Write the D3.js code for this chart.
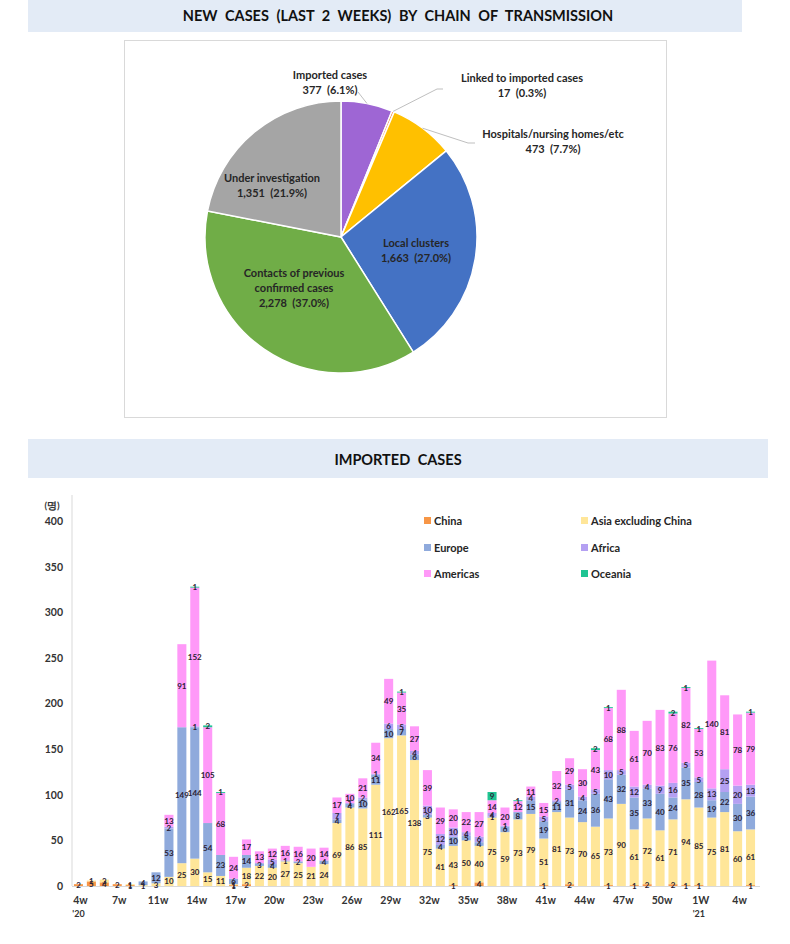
<!DOCTYPE html>
<html>
<head>
<meta charset="utf-8">
<script src="https://cdn.jsdelivr.net/npm/d3@7"></script>
<style>
  html, body { margin: 0; padding: 0; background: #fff; }
  svg { display: block; }
  text { font-family: Lato, "Open Sans", sans-serif; white-space: pre; }
</style>
</head>
<body>
<svg id="chart" width="790" height="944"></svg>
<script>
// ---------------- DATA ----------------
const pieTitle = "NEW CASES (LAST 2 WEEKS) BY CHAIN OF TRANSMISSION";
const barTitle = "IMPORTED CASES";

const pieNames = ["Imported cases", "Linked to imported cases", "Hospitals/nursing homes/etc",
                  "Local clusters", "Contacts of previous confirmed cases", "Under investigation"];
const pieValues = [377, 17, 473, 1663, 2278, 1351];
const piePercents = ["6.1%", "0.3%", "7.7%", "27.0%", "37.0%", "21.9%"];
const pieColors = ["#9e66d4", "#ed7d31", "#ffc000", "#4472c4", "#70ad47", "#a5a5a5"];

// weekly categories (2020 w4-w9, w11-w52, 2021 w1-w5)
const weeks = [
  "2020-04","2020-05","2020-06","2020-07","2020-08","2020-09",
  "2020-11","2020-12","2020-13","2020-14","2020-15","2020-16","2020-17","2020-18","2020-19","2020-20",
  "2020-21","2020-22","2020-23","2020-24","2020-25","2020-26","2020-27","2020-28","2020-29","2020-30",
  "2020-31","2020-32","2020-33","2020-34","2020-35","2020-36","2020-37","2020-38","2020-39","2020-40",
  "2020-41","2020-42","2020-43","2020-44","2020-45","2020-46","2020-47","2020-48","2020-49","2020-50",
  "2020-51","2020-52","2021-01","2021-02","2021-03","2021-04","2021-05"
];
const tickWeeks = ["2020-04","2020-07","2020-11","2020-14","2020-17","2020-20","2020-23","2020-26","2020-29",
  "2020-32","2020-35","2020-38","2020-41","2020-44","2020-47","2020-50","2021-01","2021-04"];
const tickLabels = ["4w","7w","11w","14w","17w","20w","23w","26w","29w","32w","35w","38w","41w","44w","47w","50w","1W","4w"];
const yearWeeks = ["2020-04", "2021-01"];
const yearLabels = ["'20", "'21"];
const yTicks = [0, 50, 100, 150, 200, 250, 300, 350, 400];
const yUnit = "(명)";

const seriesNames = ["China", "Asia excluding China", "Europe", "Africa", "Americas", "Oceania"];
const seriesColors = ["#f79646", "#ffe699", "#8faadc", "#b4a0f2", "#ff99f8", "#1fc493"];

const china = [2,5,4,2,1,0, 0,0,0,0,0,0,1,2,0,0, 0,0,0,0,0,0,0,0,0,0, 0,0,0,1,0,4,0,0,0,0,
  1,0,2,0,0,1,0,1,2,0, 2,1,1,0,0,0,1];
const asia = [0,1,3,0,1,1, 3,10,25,30,15,11,1,18,22,20, 27,25,21,24,69,86,85,111,162,165,
  138,75,41,43,50,40,75,59,73,79, 51,81,73,70,65,73,90,61,72,61, 71,94,85,75,81,60,61];
const europe = [0,0,0,0,0,4, 12,53,149,144,54,23,6,14,3,4, 1,2,0,4,4,4,10,11,10,7,
  6,3,4,10,5,4,1,6,8,15, 19,11,31,24,36,43,32,35,33,40, 24,35,28,19,22,30,36];
const africa = [0,0,0,0,0,0, 0,2,0,1,0,0,0,0,0,5, 0,0,0,0,7,1,2,1,6,5,
  4,10,12,10,4,6,4,1,0,4, 5,2,5,4,5,10,5,12,4,9, 16,5,5,13,25,20,13];
const americas = [0,0,0,0,0,0, 0,13,91,152,105,68,24,17,13,12, 16,16,20,14,17,10,21,34,49,35,
  27,39,29,20,22,27,14,20,12,11, 15,32,29,30,43,68,88,61,70,83, 76,82,53,140,81,78,79];
const oceania = [0,0,0,0,0,0, 0,0,0,1,2,1,0,0,0,0, 0,0,0,0,0,0,0,0,0,1,
  0,0,0,0,0,0,9,0,1,0, 0,0,0,0,2,1,0,0,0,0, 2,1,1,0,0,0,1];
const seriesValues = [china, asia, europe, africa, americas, oceania];

// ---------------- DRAW ----------------
const svg = d3.select("#chart");
const ink = "#262626";

// banners
function banner(x, y, w, h, label, tx, ty) {
  svg.append("rect").attr("x", x).attr("y", y).attr("width", w).attr("height", h).attr("fill", "#e3ebf6");
  svg.append("text").attr("x", tx).attr("y", ty).attr("text-anchor", "middle")
    .attr("font-size", 14.5).attr("font-weight", 700).attr("fill", "#111").attr("word-spacing", 4)
    .text(label);
}
banner(28, 0, 714, 32, pieTitle, 398, 21);
banner(28, 439, 740, 39, barTitle, 398, 465);

// ---- pie ----
svg.append("rect").attr("x", 124.5).attr("y", 40.5).attr("width", 542).attr("height", 377)
  .attr("fill", "#fff").attr("stroke", "#d9d9d9");

const cx = 341, cy = 237, R = 136;
const pieData = d3.pie().sort(null).value(d => d)(pieValues);
const arc = d3.arc().innerRadius(0).outerRadius(R);
const gPie = svg.append("g").attr("transform", `translate(${cx},${cy})`);
gPie.selectAll("path").data(pieData).join("path")
  .attr("d", arc).attr("fill", (d, i) => pieColors[i])
  .attr("stroke", "#fff").attr("stroke-width", 1.5);

// label layout (offsets from pie centre) and wrapped lines
const labelLayout = [
  { dx: -11, dy: -158, lines: ["Imported cases"] },
  { dx: 181, dy: -155, lines: ["Linked to imported cases"] },
  { dx: 212, dy: -99, lines: ["Hospitals/nursing homes/etc"] },
  { dx: 75, dy: 10, lines: ["Local clusters"] },
  { dx: -47, dy: 40, lines: ["Contacts of previous", "confirmed cases"] },
  { dx: -69, dy: -55, lines: ["Under investigation"] }
];
const fmt = d3.format(",");
pieData.forEach((d, i) => {
  const L = labelLayout[i];
  const lines = L.lines.concat([`${fmt(pieValues[i])}  (${piePercents[i]})`]);
  const t = gPie.append("text").attr("text-anchor", "middle").attr("font-size", 11)
    .attr("font-weight", 700).attr("fill", ink);
  lines.forEach((ln, k) => {
    t.append("tspan").attr("x", L.dx).attr("y", L.dy + k * 15).text(ln);
  });
});

// leader lines for outside labels
const edge = d3.arc().innerRadius(R).outerRadius(R);
function leader(i, pts) {
  const c = edge.centroid(pieData[i]);
  gPie.append("path").attr("d", d3.line()([c].concat(pts)))
    .attr("fill", "none").attr("stroke", "#bfbfbf").attr("stroke-width", 1);
}
leader(0, [[17, -145]]);
leader(1, [[96, -148], [102, -148]]);
leader(2, [[127, -94], [134, -94]]);

// ---- stacked bars ----
const x = d3.scaleBand().domain(weeks).range([72, 757]).paddingInner(0.3).paddingOuter(0.15);
const y = d3.scaleLinear().domain([0, 400]).range([886, 521]);

const rows = weeks.map((w, i) => {
  const r = { week: w };
  seriesNames.forEach((s, k) => r[s] = seriesValues[k][i]);
  return r;
});
const stacked = d3.stack().keys(seriesNames)(rows);

// axes
const yAxis = svg.append("g").attr("transform", "translate(72,0)")
  .call(d3.axisLeft(y).tickValues(yTicks).tickSize(0).tickPadding(9));
yAxis.select(".domain").attr("stroke", "#d9d9d9").attr("d", "M0,495V886");
yAxis.selectAll("text").attr("font-family", "Lato, sans-serif").attr("font-size", 10.5)
  .attr("font-weight", 700).attr("fill", "#333");

svg.append("line").attr("x1", 72).attr("x2", 760).attr("y1", 886.5).attr("y2", 886.5)
  .attr("stroke", "#d9d9d9");

svg.append("text").attr("x", 52).attr("y", 509).attr("text-anchor", "middle")
  .attr("font-family", "'Noto Sans CJK KR', sans-serif").attr("font-size", 9.5)
  .attr("font-weight", 700).attr("fill", "#333").text(yUnit);

const gBars = svg.append("g");
stacked.forEach((layer, k) => {
  gBars.append("g").attr("fill", seriesColors[k]).selectAll("rect")
    .data(layer.filter(d => d[1] > d[0])).join("rect")
    .attr("x", d => x(d.data.week)).attr("width", x.bandwidth())
    .attr("y", d => y(d[1])).attr("height", d => y(d[0]) - y(d[1]));
});

// value labels
const gLab = svg.append("g").attr("text-anchor", "middle").attr("font-size", 8)
  .attr("font-weight", 700).attr("fill", "#2a2233");
stacked.forEach((layer, k) => {
  gLab.selectAll(null).data(layer.filter(d => d[1] > d[0])).join("text")
    .attr("x", d => x(d.data.week) + x.bandwidth() / 2)
    .attr("y", d => (y(d[0]) + y(d[1])) / 2 + 3)
    .text(d => d[1] - d[0]);
});

// x tick labels
const gx = svg.append("g").attr("font-size", 10.5).attr("font-weight", 700)
  .attr("fill", "#333").attr("text-anchor", "middle");
tickWeeks.forEach((w, i) => {
  gx.append("text").attr("x", x(w) + x.bandwidth() / 2 + 2).attr("y", 904).text(tickLabels[i]);
});
yearWeeks.forEach((w, i) => {
  gx.append("text").attr("x", x(w) + x.bandwidth() / 2).attr("y", 917).attr("font-size", 9)
    .text(yearLabels[i]);
});

// legend
const legendX = [424, 581], legendY = [521, 548, 574];
seriesNames.forEach((s, i) => {
  const lx = legendX[i % 2], ly = legendY[Math.floor(i / 2)];
  svg.append("rect").attr("x", lx).attr("y", ly - 4).attr("width", 7).attr("height", 7)
    .attr("fill", seriesColors[i]);
  svg.append("text").attr("x", lx + 10).attr("y", ly + 4).attr("font-size", 11)
    .attr("font-weight", 700).attr("fill", "#262626").text(s);
});
</script>
</body>
</html>
